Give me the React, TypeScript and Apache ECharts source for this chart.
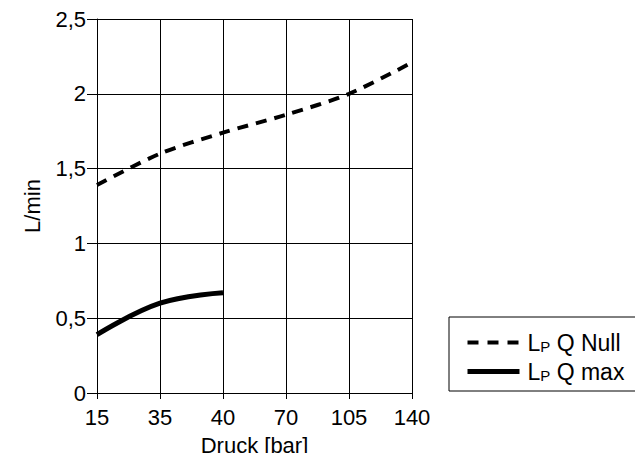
import React, { useEffect, useRef } from "react";
import * as echarts from "echarts";

const categories = ["15", "35", "40", "70", "105", "140"];
const qNull = [1.39, 1.6, 1.74, 1.86, 2.0, 2.21];
const qMax = [0.39, 0.6, 0.67];
const yTicks = [0, 0.5, 1, 1.5, 2, 2.5];

export default function App() {
  const ref = useRef<HTMLDivElement>(null);
  useEffect(() => {
    if (!ref.current) return;
    const chart = echarts.init(ref.current, undefined, { renderer: "svg" });
    const font = "Liberation Sans, Arial, sans-serif";
    const fs = 22;
    const lfs = 23;
    chart.setOption({
      animation: false,
      textStyle: { fontFamily: font },
      grid: { left: 97, right: 231, top: 19, bottom: 68 },
      legend: {
        orient: "vertical",
        left: 449,
        top: 317,
        padding: [14, 13, 8, 16],
        itemGap: 6,
        itemWidth: 52,
        itemHeight: 14,
        borderColor: "#000",
        borderWidth: 1,
        itemStyle: { opacity: 0, color: "transparent", borderWidth: 0 },
        data: [
          { name: "LP Q Null", lineStyle: { width: 4, type: [11, 9] } },
          { name: "LP Q max", lineStyle: { width: 5 } },
        ],
        formatter: (name: string) => "{a|L}{b|P}{a|" + name.slice(2) + "}",
        textStyle: {
          color: "#000",
          fontSize: lfs,
          fontFamily: font,
          padding: [0, 0, 0, 3],
          rich: {
            a: { fontSize: lfs, color: "#000", fontFamily: font },
            b: { fontSize: 15, color: "#000", fontFamily: font, padding: [7, 0, 0, 0] },
          },
        },
      },
      xAxis: {
        type: "category",
        data: categories,
        boundaryGap: false,
        name: "Druck [bar]",
        nameLocation: "middle",
        nameGap: 41,
        nameTextStyle: { color: "#000", fontSize: fs, fontFamily: font },
        axisLine: { lineStyle: { color: "#000", width: 1 } },
        axisTick: { show: true, length: 6, lineStyle: { color: "#000" } },
        axisLabel: { color: "#000", fontSize: fs, margin: 13, fontFamily: font },
        splitLine: { show: true, lineStyle: { color: "#000", width: 1 } },
      },
      yAxis: {
        type: "value",
        min: yTicks[0],
        max: yTicks[yTicks.length - 1],
        interval: 0.5,
        name: "L/min",
        nameLocation: "middle",
        nameGap: 54,
        nameTextStyle: { color: "#000", fontSize: fs, fontFamily: font },
        axisLine: { show: true, lineStyle: { color: "#000", width: 1 } },
        axisTick: { show: true, length: 10, lineStyle: { color: "#000" } },
        axisLabel: {
          color: "#000",
          fontSize: fs,
          margin: 11,
          fontFamily: font,
          formatter: (v: number) => String(v).replace(".", ","),
        },
        splitLine: { show: true, lineStyle: { color: "#000", width: 1 } },
      },
      series: [
        {
          name: "LP Q Null",
          type: "line",
          data: qNull,
          smooth: 0.3,
          symbol: "none",
          lineStyle: { color: "#000", width: 4, type: [11, 8] },
          itemStyle: { color: "#000" },
        },
        {
          name: "LP Q max",
          type: "line",
          data: qMax,
          smooth: 0.4,
          symbol: "none",
          lineStyle: { color: "#000", width: 5 },
          itemStyle: { color: "#000" },
        },
      ],
    });
    return () => chart.dispose();
  }, []);
  return <div ref={ref} style={{ width: 643, height: 461, margin: -8 }} />;
}
